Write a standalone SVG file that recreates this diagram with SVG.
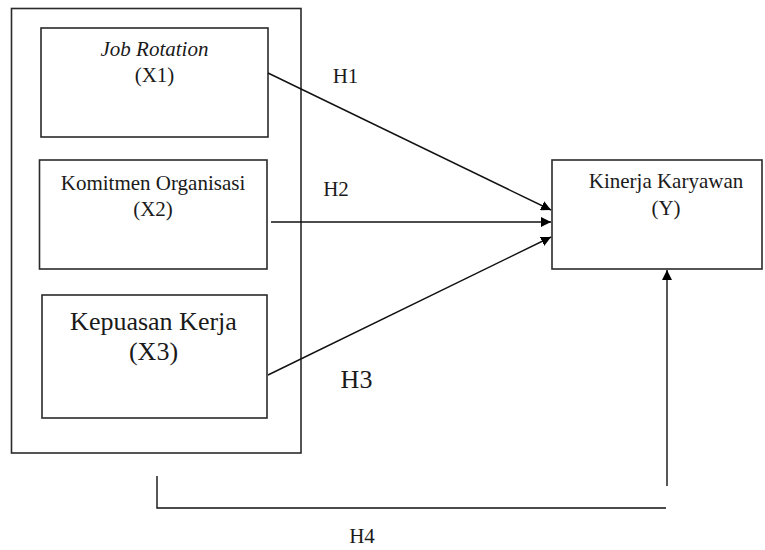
<svg xmlns="http://www.w3.org/2000/svg" width="765" height="550" viewBox="0 0 765 550">
<style>
.box{fill:#fff;stroke:#2a2a2a;stroke-width:1.6}
.ln{fill:none;stroke:#111;stroke-width:1.4}
.t{font-family:'Liberation Serif','Times New Roman','DejaVu Serif',serif;font-size:21px;fill:#1a1a1a;text-anchor:middle}
.big{font-size:26px}
.it{font-style:italic}
</style>
<defs>
<marker id="ah" viewBox="0 0 10 10" refX="10" refY="5" markerWidth="10" markerHeight="10" markerUnits="userSpaceOnUse" orient="auto">
<path d="M0,0 L10,5 L0,10 z" fill="#000"/>
</marker>
</defs>
<rect width="765" height="550" fill="#fff"/>
<g id="outer"><rect class="box" x="11.5" y="8.5" width="289.5" height="444.5"/></g>
<g id="x1"><rect class="box" x="41" y="28" width="227" height="109"/>
<text class="t it" x="154.5" y="56">Job Rotation</text>
<text class="t" x="154.5" y="82">(X1)</text></g>
<g id="x2"><rect class="box" x="39.5" y="160" width="227.5" height="109"/>
<text class="t" x="153" y="190">Komitmen Organisasi</text>
<text class="t" x="153" y="216">(X2)</text></g>
<g id="x3"><rect class="box" x="42" y="295" width="225" height="123"/>
<text class="t big" x="153.5" y="330">Kepuasan Kerja</text>
<text class="t big" x="153.5" y="360">(X3)</text></g>
<g id="y"><rect class="box" x="552" y="160" width="210" height="109"/>
<text class="t" x="666" y="188">Kinerja Karyawan</text>
<text class="t" x="666" y="215">(Y)</text></g>
<g id="connectors">
<line class="ln" x1="268" y1="73" x2="551" y2="210" marker-end="url(#ah)"/>
<line class="ln" x1="271" y1="222" x2="551" y2="222" marker-end="url(#ah)"/>
<line class="ln" x1="268" y1="375" x2="551" y2="237" marker-end="url(#ah)"/>
<line class="ln" x1="667" y1="486" x2="667" y2="270" marker-end="url(#ah)"/>
<polyline class="ln" points="157,476 157,508 666,508"/>
</g>
<g id="labels">
<text class="t" x="345.5" y="83">H1</text>
<text class="t" x="336" y="196">H2</text>
<text class="t big" x="356.5" y="388">H3</text>
<text class="t" x="362" y="543">H4</text>
</g>
</svg>
